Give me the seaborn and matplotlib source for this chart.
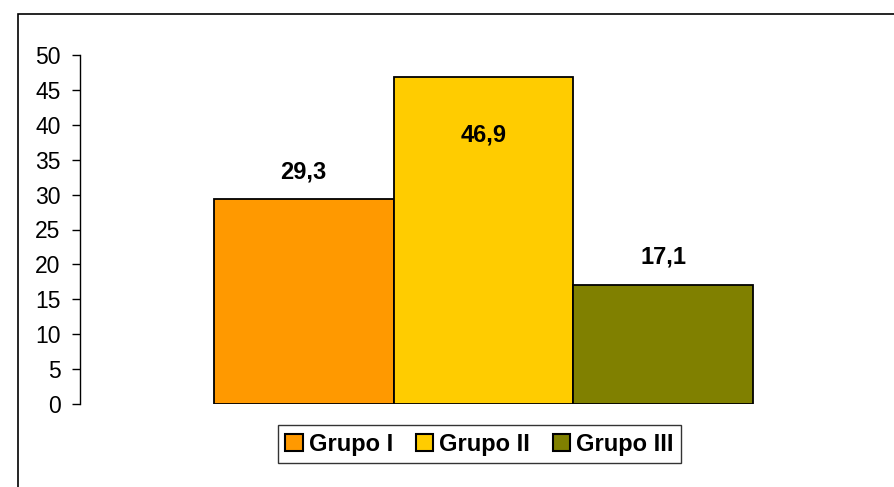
import pandas as pd
import matplotlib.pyplot as plt
from matplotlib.patches import Rectangle
import seaborn as sns

grupos = ['Grupo I', 'Grupo II', 'Grupo III']
valores = [29.3, 46.9, 17.1]
colores = ['#FF9900', '#FFCC00', '#808000']
etiquetas = ['29,3', '46,9', '17,1']

df = pd.DataFrame({'Grupo': grupos, 'Valor': valores})

sns.set_style('white')
plt.rcParams['font.family'] = ['Liberation Sans', 'DejaVu Sans']
plt.rcParams['text.color'] = 'black'
plt.rcParams['ytick.color'] = 'black'

fig = plt.figure(figsize=(8.94, 4.87), dpi=100)
ax = fig.add_axes([80 / 894, 83 / 487, (887 - 80) / 894, (404 - 55) / 487])

# marco exterior del grafico (cortado a la derecha y abajo)
fig.patches.append(Rectangle((18 / 894, -0.1), 2, (487 - 14) / 487 + 0.1,
                             transform=fig.transFigure, fill=False,
                             edgecolor='black', linewidth=1.2))

sns.barplot(data=df, x='Grupo', y='Valor', hue='Grupo', palette=colores,
            saturation=1, width=1, edgecolor='black', linewidth=1.3,
            legend=False, ax=ax)

ax.set_xlim(-0.5 - 134 / 180, 2.5 + 134 / 180)
ax.set_ylim(0, 50)
ax.set_yticks(range(0, 51, 5))
ax.tick_params(axis='y', direction='out', length=6, width=1, color='black',
               labelsize=16.5, pad=8, left=True, labelcolor='black')
ax.set_xticks([])
ax.set_xlabel('')
ax.set_ylabel('')
for s in ['top', 'right', 'bottom']:
    ax.spines[s].set_visible(False)
ax.spines['left'].set_color('black')
ax.spines['left'].set_linewidth(1)

# etiquetas de datos
desplaz = [4.0, -8.3, 3.9]
for i, (v, t) in enumerate(zip(valores, etiquetas)):
    ax.text(i, v + desplaz[i], t, ha='center', va='center', fontsize=17,
            fontweight='bold', color='black')

handles = [Rectangle((0, 0), 1, 1, facecolor=c, edgecolor='black', linewidth=1.5)
           for c in colores]
leg = fig.legend(handles, grupos, loc='center', bbox_to_anchor=(479.5 / 894, 1 - 444 / 487),
                 ncol=3, frameon=True, fancybox=False, edgecolor='black',
                 prop={'size': 17, 'weight': 'bold'}, handlelength=0.75,
                 handleheight=0.75, handletextpad=0.25, columnspacing=0.95,
                 borderpad=0.3, borderaxespad=0)
leg.get_frame().set_linewidth(1)

fig.savefig('out.png', dpi=100)
